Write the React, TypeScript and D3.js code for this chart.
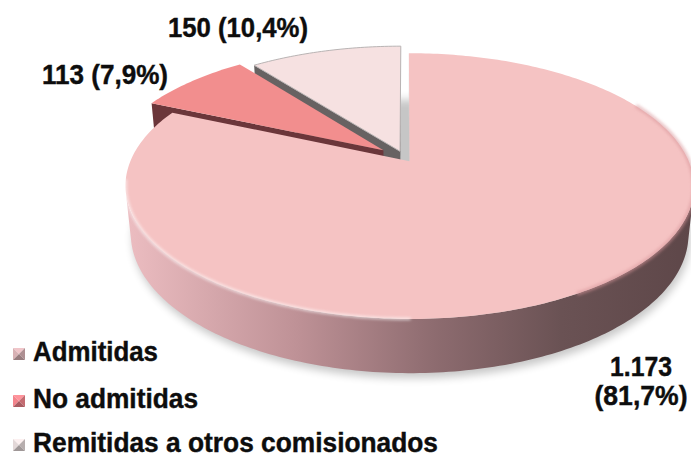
import React from "react";
import * as d3 from "d3";

const W = 691;
const H = 459;

// ---- data ----
const categories = ["Admitidas", "No admitidas", "Remitidas a otros comisionados"];
const values = [1173, 113, 150];
const valueText = ["1.173", "113", "150"];
const percentText = ["81,7%", "7,9%", "10,4%"];

// ---- styles / layout ----
const topColors = ["#f5c3c3", "#f28e8e", "#f6e1e1"];
const wallColors = ["#dadada", "#6b363a", "#676262"];
const outerColors = ["url(#bigSide)", "#7a4347", "#8a8282"];
const legendColors = ["#c9a5a8", "#e27b82", "#d3c9c9"];
const explode = [0.03, 0.1, 0.056];

// perspective camera
const CX = 405;
const CY = 158;
const F = 1327;
const DIST = 4.775;
const TILT = (27.2 * Math.PI) / 180;
const SN = Math.sin(TILT);
const CS = Math.cos(TILT);
const HGT = 0.1935;

function proj(X: number, Y: number, Z: number): [number, number] {
  const yv = Y * CS - Z * SN;
  const depth = DIST - (Z * CS + Y * SN);
  return [CX + (F * X) / depth, CY - (F * yv) / depth];
}

const line = d3.line<[number, number]>();

function App() {
  const arcs = d3.pie<number>().sort(null).value((d) => d)(values);

  const slices = arcs.map((a, i) => {
    const a0 = a.startAngle;
    const a1 = a.endAngle;
    const mid = (a0 + a1) / 2;
    const e = explode[i];
    const ox = e * Math.sin(mid);
    const oz = -e * Math.cos(mid);
    const pt = (ang: number, Y: number) => proj(ox + Math.sin(ang), Y, oz - Math.cos(ang));
    const n = Math.max(4, Math.ceil(((a1 - a0) * 180) / Math.PI));
    const angs = d3.range(n + 1).map((k) => a0 + ((a1 - a0) * k) / n);
    const vTop = proj(ox, 0, oz);
    const vBot = proj(ox, -HGT, oz);
    const topPath = line([vTop, ...angs.map((g) => pt(g, 0))]) + "Z";

    // outer wall visible runs
    const vis = (g: number) => {
      const pX = ox + Math.sin(g);
      const pZ = oz - Math.cos(g);
      return Math.sin(g) * -pX + -Math.cos(g) * (DIST * CS - pZ) > 0;
    };
    const runs: number[][] = [];
    let cur: number[] = [];
    angs.forEach((g) => {
      if (vis(g)) cur.push(g);
      else {
        if (cur.length > 1) runs.push(cur);
        cur = [];
      }
    });
    if (cur.length > 1) runs.push(cur);
    const outerPaths = runs.map(
      (r) => line([...r.map((g) => pt(g, 0)), ...r.slice().reverse().map((g) => pt(g, -HGT))]) + "Z"
    );

    // radial walls
    const camV = (nx: number, nz: number) => nx * -ox + nz * (DIST * CS - oz);
    const walls: string[] = [];
    if (camV(-Math.cos(a0), -Math.sin(a0)) > 0)
      walls.push(line([vTop, pt(a0, 0), pt(a0, -HGT), vBot]) + "Z");
    if (camV(Math.cos(a1), Math.sin(a1)) > 0)
      walls.push(line([vTop, pt(a1, 0), pt(a1, -HGT), vBot]) + "Z");

    const rimPath = (g0: number, g1: number, Y: number) => {
      const lo = Math.max(a0, g0);
      const hi = Math.min(a1, g1);
      if (hi <= lo) return "";
      const m = Math.ceil(((hi - lo) * 180) / Math.PI);
      return line(d3.range(m + 1).map((k) => pt(lo + ((hi - lo) * k) / m, Y))) || "";
    };
    const bottomOutline =
      line(d3.range(361).map((k) => pt((k * Math.PI) / 180, -HGT))) + "Z";

    return { i, topPath, outerPaths, walls, rimPath, bottomOutline };
  });

  const deg = Math.PI / 180;
  const big = slices[0];
  const order = [2, 1, 0];

  const font = "'Liberation Sans', Arial, sans-serif";
  const textFill = "#0d0d0d";
  const fs = 27;

  const labels = [
    { lines: [valueText[0], `(${percentText[0]})`], x: 641, y: [376, 405], w: [62, 93], anchor: "middle" },
    { lines: [`${valueText[1]} (${percentText[1]})`], x: 42, y: [84], w: [126], anchor: "start" },
    { lines: [`${valueText[2]} (${percentText[2]})`], x: 168, y: [37], w: [140], anchor: "start" },
  ];
  const legendY = [361, 408, 452];
  const legendW = [125, 165, 405];

  return (
    <svg
      width={W}
      height={H}
      viewBox={`0 0 ${W} ${H}`}
      style={{ position: "absolute", left: 0, top: 0, background: "#fff" }}
    >
      <defs>
        <linearGradient id="bigSide" gradientUnits="userSpaceOnUse" x1={130} y1={0} x2={690} y2={0}>
          <stop offset="0" stopColor="#ebbcc0" />
          <stop offset="0.3" stopColor="#be9196" />
          <stop offset="0.54" stopColor="#8e6c70" />
          <stop offset="0.77" stopColor="#6a5254" />
          <stop offset="1" stopColor="#5e4749" />
        </linearGradient>
        <filter id="soft" x="-20%" y="-20%" width="140%" height="140%">
          <feGaussianBlur stdDeviation="4" />
        </filter>
        <filter id="soft2" x="-20%" y="-20%" width="140%" height="140%">
          <feGaussianBlur stdDeviation="1.5" />
        </filter>
      </defs>

      {/* shadow */}
      <path d={big.bottomOutline} transform="translate(2,5)" fill="#000" opacity={0.22} filter="url(#soft)" />

      {order.map((idx) => {
        const s = slices[idx];
        return (
          <g key={idx}>
            {s.walls.map((d, k) => (
              <path key={"w" + k} d={d} fill={wallColors[idx]} />
            ))}
            {s.outerPaths.map((d, k) => (
              <path key={"o" + k} d={d} fill={outerColors[idx]} />
            ))}
            <path
              d={s.topPath}
              fill={topColors[idx]}
              stroke={idx === 2 ? "#b9b4b4" : "none"}
              strokeWidth={idx === 2 ? 1 : 0}
            />
          </g>
        );
      })}

      {/* rim highlights on the big top face */}
      <path d={big.rimPath(62 * deg, 150 * deg, 0)} fill="none" stroke="#d9979b" strokeWidth={4} opacity={0.55} filter="url(#soft2)" />
      <path d={big.rimPath(180 * deg, 262 * deg, 0)} fill="none" stroke="#ffffff" strokeWidth={2.2} opacity={0.75} filter="url(#soft2)" />

      {/* data labels */}
      {labels.map((l, i) =>
        l.lines.map((t, k) => (
          <text
            key={i + "-" + k}
            x={l.x}
            y={l.y[k]}
            textAnchor={l.anchor as any}
            fontFamily={font}
            fontWeight="bold"
            fontSize={fs}
            fill={textFill}
            stroke={textFill}
            strokeWidth={0.4}
            textLength={l.w[k]}
            lengthAdjust="spacingAndGlyphs"
          >
            {t}
          </text>
        ))
      )}

      {/* legend */}
      {categories.map((c, i) => {
        const base = d3.color(legendColors[i])!;
        const x0 = 13;
        const y0 = legendY[i] - 13;
        const sz = 12;
        const cxm = x0 + sz / 2;
        const cym = y0 + sz / 2;
        const tri = (pts: [number, number][]) => line(pts) + "Z";
        return (
          <g key={c}>
            <path d={tri([[x0, y0], [x0 + sz, y0], [cxm, cym]])} fill={base.brighter(0.5).toString()} />
            <path d={tri([[x0, y0], [x0, y0 + sz], [cxm, cym]])} fill={base.brighter(0.2).toString()} />
            <path d={tri([[x0 + sz, y0], [x0 + sz, y0 + sz], [cxm, cym]])} fill={base.darker(0.4).toString()} />
            <path d={tri([[x0, y0 + sz], [x0 + sz, y0 + sz], [cxm, cym]])} fill={base.darker(0.8).toString()} />
            <text
              x={33}
              y={legendY[i]}
              fontFamily={font}
              fontWeight="bold"
              fontSize={fs}
              fill={textFill}
              stroke={textFill}
              strokeWidth={0.4}
              textLength={legendW[i]}
              lengthAdjust="spacingAndGlyphs"
            >
              {c}
            </text>
          </g>
        );
      })}
    </svg>
  );
}

export default App;
